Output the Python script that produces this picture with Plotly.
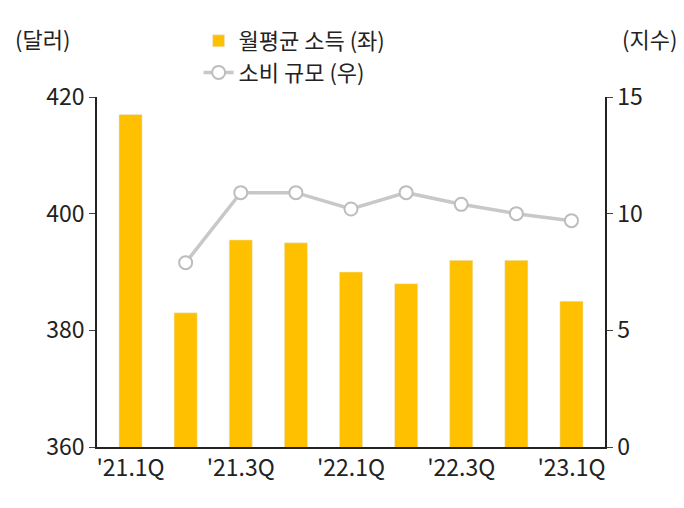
import plotly.graph_objects as go

quarters = ["'21.1Q", "'21.2Q", "'21.3Q", "'21.4Q", "'22.1Q", "'22.2Q", "'22.3Q", "'22.4Q", "'23.1Q"]
income = [417, 383, 395.5, 395, 390, 388, 392, 392, 385]
spending = [None, 7.9, 10.9, 10.9, 10.2, 10.9, 10.4, 10.0, 9.7]
tick_labels = ["'21.1Q", "'21.3Q", "'22.1Q", "'22.3Q", "'23.1Q"]

font = "Noto Sans CJK KR"

fig = go.Figure()
fig.add_trace(go.Bar(x=quarters, y=income, name="월평균 소득 (좌)",
                     marker_color="#FFC000", width=0.42))
fig.add_trace(go.Scatter(x=quarters, y=spending, name="소비 규모 (우)", yaxis="y2",
                         mode="lines+markers", line=dict(color="#C8C8C8", width=3.5),
                         marker=dict(size=13, color="white", line=dict(color="#BDBDBD", width=2))))

fig.update_layout(
    width=684, height=508,
    margin=dict(l=89, r=87, t=79, b=69),
    plot_bgcolor="white", paper_bgcolor="white",
    font=dict(family=font, size=23, color="#222"),
    bargap=0.5,
    showlegend=True,
    legend=dict(x=0.2, y=1.22, xanchor="left", yanchor="top", bgcolor="rgba(0,0,0,0)",
                font=dict(size=22)),
    xaxis=dict(tickmode="array", tickvals=tick_labels, ticktext=tick_labels,
               showline=True, linecolor="#222", linewidth=1.5, ticks="", showgrid=False),
    yaxis=dict(range=[360, 420], tickvals=[360, 380, 400, 420], showline=True,
               linecolor="#222", linewidth=1.5, ticks="outside", ticklen=6, showgrid=False),
    yaxis2=dict(range=[0, 15], tickvals=[0, 5, 10, 15], overlaying="y", side="right",
                showline=True, linecolor="#222", linewidth=1.5, ticks="outside", ticklen=6,
                showgrid=False),
    annotations=[
        dict(text="(달러)", xref="paper", yref="paper", x=-0.165, y=1.22, showarrow=False,
             xanchor="left", yanchor="top", font=dict(size=22)),
        dict(text="(지수)", xref="paper", yref="paper", x=1.145, y=1.22, showarrow=False,
             xanchor="right", yanchor="top", font=dict(size=22)),
    ],
)
fig.write_html("out.html")
